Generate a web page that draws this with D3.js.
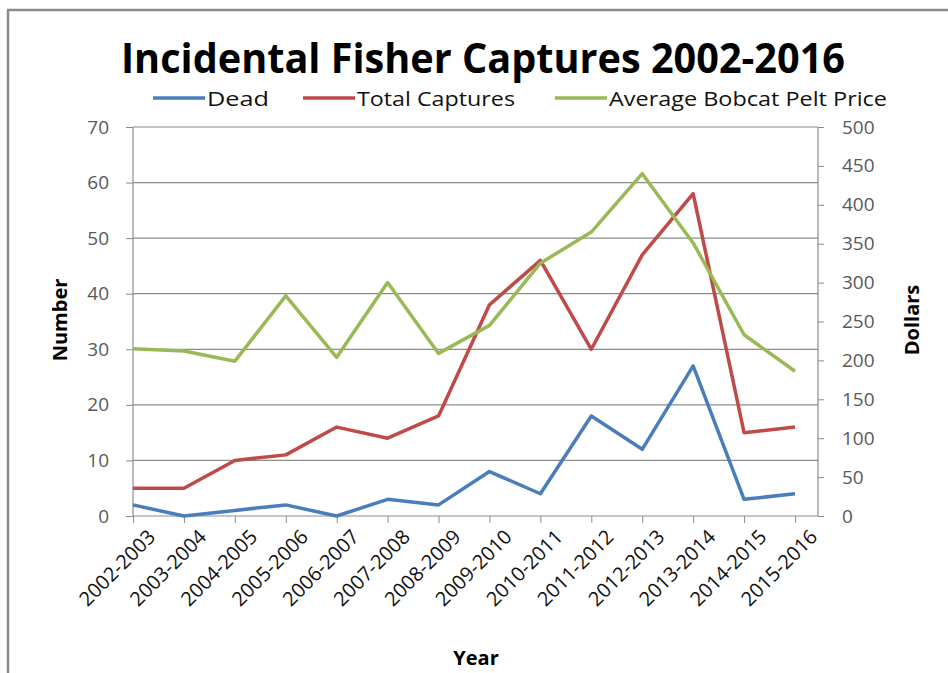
<!DOCTYPE html>
<html><head><meta charset="utf-8">
<script src="https://cdn.jsdelivr.net/npm/d3@7"></script>
<style>body{margin:0;background:#fff;}svg{display:block;}</style>
</head><body>
<script>
const categories = ["2002-2003","2003-2004","2004-2005","2005-2006","2006-2007","2007-2008","2008-2009","2009-2010","2010-2011","2011-2012","2012-2013","2013-2014","2014-2015","2015-2016"];
const dead = [2,0,1,2,0,3,2,8,4,18,12,27,3,4];
const totalCaptures = [5,5,10,11,16,14,18,38,46,30,47,58,15,16];
const peltPrice = [215,212,199,283,204,300,209,245,325,365,440,351,233,186];
const leftTicks = [0,10,20,30,40,50,60,70];
const rightTicks = [0,50,100,150,200,250,300,350,400,450,500];

const W=948,H=673;
const svg=d3.select("body").append("svg").attr("width",W).attr("height",H);
const font="'Open Sans', sans-serif";

// frame
svg.append("line").attr("x1",7).attr("x2",W).attr("y1",10).attr("y2",10).attr("stroke","#8a8a8a").attr("stroke-width",2.5);
svg.append("line").attr("x1",8).attr("x2",8).attr("y1",10).attr("y2",H).attr("stroke","#8a8a8a").attr("stroke-width",2.5);

const plotL=133, plotR=818, plotT=127, plotB=516;
const x=d3.scalePoint().domain(categories).range([133,795]);
const yL=d3.scaleLinear().domain([0,70]).range([plotB,plotT]);
const yR=d3.scaleLinear().domain([0,500]).range([plotB,plotT]);

// gridlines
svg.append("g").selectAll("line").data(leftTicks.slice(1)).join("line")
  .attr("x1",plotL).attr("x2",plotR).attr("y1",d=>yL(d)).attr("y2",d=>yL(d))
  .attr("stroke","#8c8c8c").attr("stroke-width",1.2);

// left axis
const gL=svg.append("g").attr("transform",`translate(${plotL},0)`)
  .call(d3.axisLeft(yL).tickValues(leftTicks).tickSize(7).tickPadding(17));
gL.select(".domain").attr("stroke","#8c8c8c").attr("stroke-width",1.2).attr("d",`M-0,${plotT}V${plotB}`);
gL.selectAll(".tick line").attr("stroke","#8c8c8c");
gL.selectAll("text").attr("font-family",font).attr("font-size",19).attr("fill","#595959");

// right axis
const gR=svg.append("g").attr("transform",`translate(${plotR},0)`)
  .call(d3.axisRight(yR).tickValues(rightTicks).tickSize(6).tickPadding(18));
gR.select(".domain").attr("stroke","#8c8c8c").attr("stroke-width",1.2).attr("d",`M0,${plotT}V${plotB}`);
gR.selectAll(".tick line").attr("stroke","#8c8c8c");
gR.selectAll("text").attr("font-family",font).attr("font-size",19).attr("fill","#595959");

// x axis
const gX=svg.append("g").attr("transform",`translate(0,${plotB})`)
  .call(d3.axisBottom(x).tickSize(7).tickPadding(6));
gX.select(".domain").attr("stroke","#8c8c8c").attr("stroke-width",1.2).attr("d",`M${plotL},0H${plotR}`);
gX.selectAll(".tick line").attr("stroke","#8c8c8c");
gX.selectAll("text").attr("font-family",font).attr("font-size",20).attr("fill","#111")
  .attr("text-anchor","end").attr("dy","0.35em").attr("transform","translate(9,8) rotate(-45)");

// lines
const lineL=d3.line().x((d,i)=>x(categories[i])).y(d=>yL(d));
const lineR=d3.line().x((d,i)=>x(categories[i])).y(d=>yR(d));
const colors={dead:"#4a7ebb",total:"#be4b48",price:"#98b954"};
svg.append("path").datum(dead).attr("d",lineL).attr("fill","none").attr("stroke",colors.dead).attr("stroke-width",3.5).attr("stroke-linejoin","round");
svg.append("path").datum(totalCaptures).attr("d",lineL).attr("fill","none").attr("stroke",colors.total).attr("stroke-width",3.5).attr("stroke-linejoin","round");
svg.append("path").datum(peltPrice).attr("d",lineR).attr("fill","none").attr("stroke",colors.price).attr("stroke-width",3.5).attr("stroke-linejoin","round");

// title
svg.append("text").attr("x",121).attr("y",73)
  .attr("font-family",font).attr("font-weight","bold").attr("font-size",41).attr("fill","#000")
  .attr("textLength",724).attr("lengthAdjust","spacingAndGlyphs")
  .text("Incidental Fisher Captures 2002-2016");

// legend
const legend=[{n:"Dead",c:colors.dead,x:153,w:62},{n:"Total Captures",c:colors.total,x:303,w:158},{n:"Average Bobcat Pelt Price",c:colors.price,x:555,w:278}];
const lg=svg.append("g");
legend.forEach(l=>{
  lg.append("line").attr("x1",l.x).attr("x2",l.x+52).attr("y1",98).attr("y2",98).attr("stroke",l.c).attr("stroke-width",3.5);
  lg.append("text").attr("x",l.x+54).attr("y",106).attr("font-family",font).attr("font-size",20).attr("fill","#111")
    .attr("textLength",l.w).attr("lengthAdjust","spacingAndGlyphs").text(l.n);
});

// axis titles
svg.append("text").attr("transform","translate(67,320) rotate(-90)").attr("text-anchor","middle")
  .attr("font-family",font).attr("font-weight","bold").attr("font-size",20).text("Number");
svg.append("text").attr("transform","translate(919,320) rotate(-90)").attr("text-anchor","middle")
  .attr("font-family",font).attr("font-weight","bold").attr("font-size",20).text("Dollars");
svg.append("text").attr("x",476).attr("y",665).attr("text-anchor","middle")
  .attr("font-family",font).attr("font-weight","bold").attr("font-size",20).text("Year");
</script>
</body></html>
